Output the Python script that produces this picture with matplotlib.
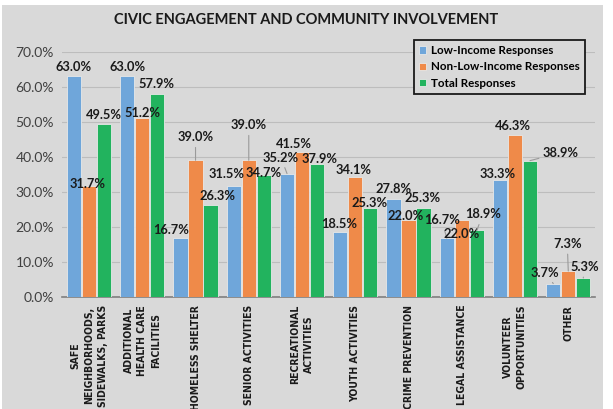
import matplotlib
matplotlib.use("Agg")
import matplotlib.pyplot as plt
import numpy as np

categories = ["SAFE\nNEIGHBORHOODS,\nSIDEWALKS, PARKS", "ADDITIONAL\nHEALTH CARE\nFACILITIES",
              "HOMELESS SHELTER", "SENIOR ACTIVITIES", "RECREATIONAL\nACTIVITIES",
              "YOUTH ACTIVITIES", "CRIME PREVENTION", "LEGAL ASSISTANCE",
              "VOLUNTEER\nOPPORTUNITIES", "OTHER"]
low_income = [63.0, 63.0, 16.7, 31.5, 35.2, 18.5, 27.8, 16.7, 33.3, 3.7]
non_low_income = [31.7, 51.2, 39.0, 39.0, 41.5, 34.1, 22.0, 22.0, 46.3, 7.3]
total = [49.5, 57.9, 26.3, 34.7, 37.9, 25.3, 25.3, 18.9, 38.9, 5.3]
series_names = ["Low-Income Responses", "Non-Low-Income Responses", "Total Responses"]
yticks = [0, 10, 20, 30, 40, 50, 60, 70]

colors = ["#6fa6da", "#ef8a49", "#22b35e"]
bg = "#d9d9d9"

# label offsets in pixels from bar top (dx, dy), and whether a leader line is drawn
offsets = [
    [(0, 9), (0, 9), (-9, 8), (-7, 12), (-6, 16), (-1, 8), (0, 10), (-5, 18), (-2, 6), (-8, 11)],
    [(-1, 2), (0, 5), (0, 23), (0, 35), (-8, 8), (-2, 7), (-3, 4), (0, -14), (-2, 9), (-1, 27)],
    [(0, 9), (-1, 10), (7, 9), (0, 2), (3, 5), (-1, 5), (-1, 10), (6, 16), (31, 8), (1, 11)],
]
leaders = [
    [0, 0, 0, 0, 1, 0, 0, 1, 0, 1],
    [0, 0, 1, 1, 0, 0, 0, 0, 0, 1],
    [0, 0, 0, 0, 0, 0, 0, 1, 1, 1],
]

fig = plt.figure(figsize=(6.13, 4.09), dpi=100, facecolor="white")
fig.patches.append(plt.Rectangle((2 / 613, 0), 601 / 613, 404 / 409, transform=fig.transFigure,
                                 facecolor=bg, edgecolor="none", zorder=-10))
ax = fig.add_axes([62.4 / 613, (409 - 296.5) / 409, 532.5 / 613, 244.5 / 409])
ax.set_facecolor(bg)

x = np.arange(len(categories))
width = 0.265
step = 0.282
for k, vals in enumerate([low_income, non_low_income, total]):
    bars = ax.bar(x + (k - 1) * step, vals, width, color=colors[k], edgecolor="#e8e8e8",
                  linewidth=0.6, label=series_names[k], zorder=3)
    for i, b in enumerate(bars):
        dx, dy = offsets[k][i]
        top = (b.get_x() + b.get_width() / 2, b.get_height())
        ap = None
        if leaders[k][i]:
            ap = dict(arrowstyle="-", color="#9a9a9a", lw=0.8, shrinkA=1, shrinkB=0)
        ax.annotate(f"{vals[i]:.1f}%", xy=top, xytext=(dx, dy), textcoords="offset pixels",
                    ha="center", va="center", fontsize=9.3, fontweight="bold",
                    family="Lato", color="#1a1a1a", arrowprops=ap, zorder=5)

ax.set_xlim(-0.5, len(categories) - 0.5)
ax.set_ylim(0, 70)
ax.set_yticks(yticks)
ax.set_yticklabels([f"{v:.1f}%" for v in yticks], family="Lato", fontsize=10, color="#404040")
ax.yaxis.grid(True, color="#bdbdbd", linewidth=0.8, zorder=0)
ax.set_axisbelow(True)
for s in ["left", "right", "top"]:
    ax.spines[s].set_visible(False)
ax.spines["bottom"].set_color("#7f7f7f")
ax.spines["bottom"].set_linewidth(1.2)
ax.tick_params(axis="both", length=0, pad=6)
ax.set_xticks(x)
ax.set_xticklabels(categories, rotation=90, family="DejaVu Sans", fontstretch="condensed",
                   fontweight="bold", fontsize=7.5, color="#1a1a1a", va="top", ha="center",
                   multialignment="center", linespacing=1.45)
ax.tick_params(axis="x", pad=6)

fig.text(306 / 613, 1 - 20 / 409, "CIVIC ENGAGEMENT AND COMMUNITY INVOLVEMENT", ha="center",
         va="center", family="Lato", fontweight="bold", fontsize=10.5, color="#1a1a1a")

leg = ax.legend(loc="upper left", bbox_to_anchor=(408 / 613, 1 - 34 / 409),
                bbox_transform=fig.transFigure, frameon=True, fancybox=False,
                prop=dict(family="Lato", weight="bold", size=8.4), handlelength=0.6,
                handleheight=0.6, handletextpad=0.4, labelspacing=0.45, borderpad=0.45)
leg.get_frame().set_edgecolor("#1a1a1a")
leg.get_frame().set_linewidth(1.3)
leg.get_frame().set_facecolor(bg)
leg.get_frame().set_alpha(1)

fig.savefig("out.png", dpi=100, facecolor="white")
